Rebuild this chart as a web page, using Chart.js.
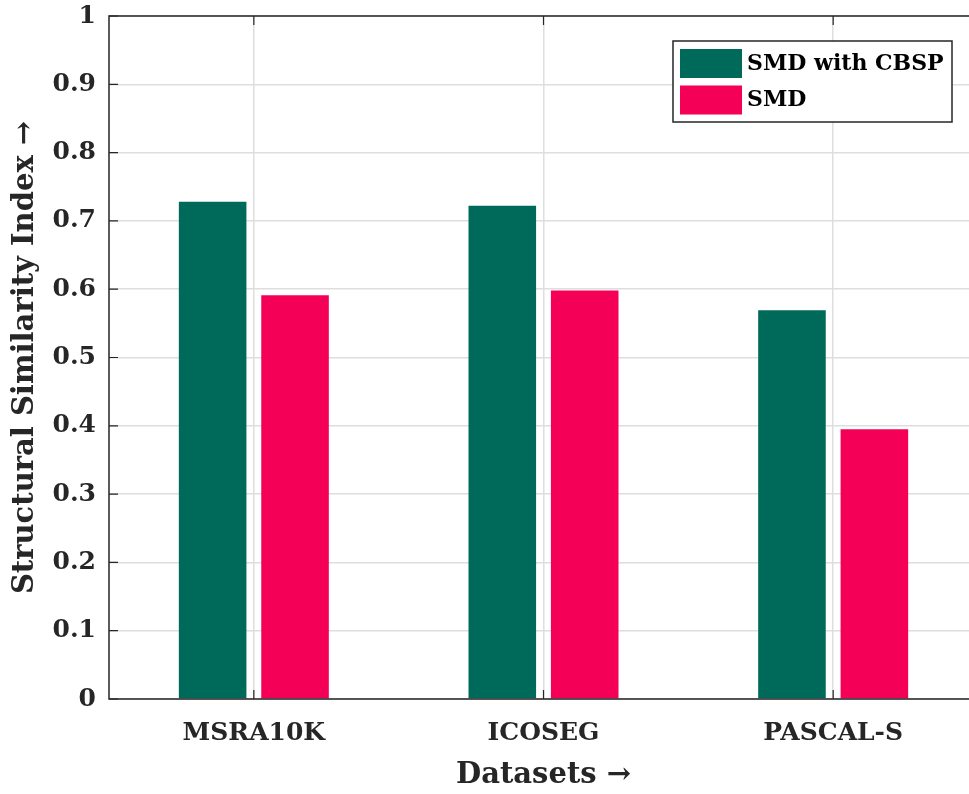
<!DOCTYPE html>
<html>
<head>
<meta charset="utf-8">
<script src="https://cdn.jsdelivr.net/npm/chart.js@4.4.1/dist/chart.umd.min.js"></script>
<style>
html,body{margin:0;padding:0;background:#fff;overflow:hidden;width:969px;height:794px;}
canvas{display:block;}
</style>
</head>
<body>
<canvas id="c" width="1000" height="794"></canvas>
<script>
const categories = ['MSRA10K', 'ICOSEG', 'PASCAL-S'];
const smdWithCbsp = [0.728, 0.722, 0.569];
const smd = [0.591, 0.598, 0.395];
const yTicks = [0, 0.1, 0.2, 0.3, 0.4, 0.5, 0.6, 0.7, 0.8, 0.9, 1];
const seriesNames = ['SMD with CBSP', 'SMD'];
const seriesColors = ['#006a5a', '#f40056'];

const FONT = "'DejaVu Serif', 'Liberation Serif', serif";
const AXIS = '#262626';

const framePlugin = {
  id: 'frame',
  afterDatasetsDraw(chart) {
    const ctx = chart.ctx, a = chart.chartArea;
    const xs = chart.scales.x, ys = chart.scales.y;
    ctx.save();
    ctx.strokeStyle = AXIS;
    ctx.lineWidth = 1.5;
    ctx.beginPath();
    ctx.rect(a.left, a.top, a.right - a.left, a.bottom - a.top);
    ctx.stroke();
    ctx.lineWidth = 1.2;
    ctx.beginPath();
    yTicks.forEach(v => {
      const y = ys.getPixelForValue(v);
      ctx.moveTo(a.left, y); ctx.lineTo(a.left + 9, y);
      ctx.moveTo(a.right, y); ctx.lineTo(a.right - 9, y);
    });
    categories.forEach((c, i) => {
      const x = xs.getPixelForValue(i);
      ctx.moveTo(x, a.bottom); ctx.lineTo(x, a.bottom - 9);
      ctx.moveTo(x, a.top); ctx.lineTo(x, a.top + 9);
    });
    ctx.stroke();
    // legend
    const lx = 673, ly = 41, lw = 279, lh = 81;
    ctx.fillStyle = '#fff';
    ctx.fillRect(lx, ly, lw, lh);
    ctx.strokeStyle = AXIS;
    ctx.lineWidth = 1.5;
    ctx.strokeRect(lx, ly, lw, lh);
    ctx.font = "bold 22px " + FONT;
    ctx.textBaseline = 'middle';
    chart.data.datasets.forEach((ds, i) => {
      const sy = ly + 8 + i * 36.5;
      ctx.fillStyle = ds.backgroundColor;
      ctx.fillRect(lx + 7, sy, 62, 29);
      ctx.fillStyle = '#000';
      ctx.fillText(ds.label, lx + 74, sy + 15);
    });
    ctx.restore();
  }
};

new Chart(document.getElementById('c'), {
  type: 'bar',
  data: {
    labels: categories,
    datasets: [
      { label: seriesNames[0], data: smdWithCbsp, backgroundColor: seriesColors[0] },
      { label: seriesNames[1], data: smd, backgroundColor: seriesColors[1] }
    ]
  },
  options: {
    responsive: false,
    animation: false,
    devicePixelRatio: 1,
    layout: { padding: { top: 16, right: 22, left: 0, bottom: 0 } },
    datasets: { bar: { categoryPercentage: 0.569, barPercentage: 0.82 } },
    plugins: { legend: { display: false }, tooltip: { enabled: false } },
    scales: {
      x: {
        grid: { offset: false, color: '#dedede', lineWidth: 1.5, drawTicks: false },
        border: { display: false },
        ticks: { color: AXIS, padding: 19, font: { family: FONT, weight: 'bold', size: 25 } },
        title: { display: true, text: 'Datasets →', color: AXIS, padding: { top: 4, bottom: 1 }, font: { family: FONT, weight: 'bold', size: 29 } },
        afterFit: s => { s.height = 95; s.paddingLeft = 0; s.paddingRight = 0; }
      },
      y: {
        min: 0, max: 1,
        afterBuildTicks: s => { s.ticks = yTicks.map(v => ({ value: v })); },
        grid: { color: '#dedede', lineWidth: 1.5, drawTicks: false },
        border: { display: false },
        ticks: { color: AXIS, padding: 13, font: { family: FONT, weight: 'bold', size: 25 }, callback: v => String(v) },
        title: { display: true, text: 'Structural Similarity Index →', color: AXIS, padding: { top: 8, bottom: 0 }, font: { family: FONT, weight: 'bold', size: 29 } },
        afterFit: s => { s.width = 109; s.paddingTop = 0; s.paddingBottom = 0; }
      }
    }
  },
  plugins: [framePlugin]
});
</script>
</body>
</html>
